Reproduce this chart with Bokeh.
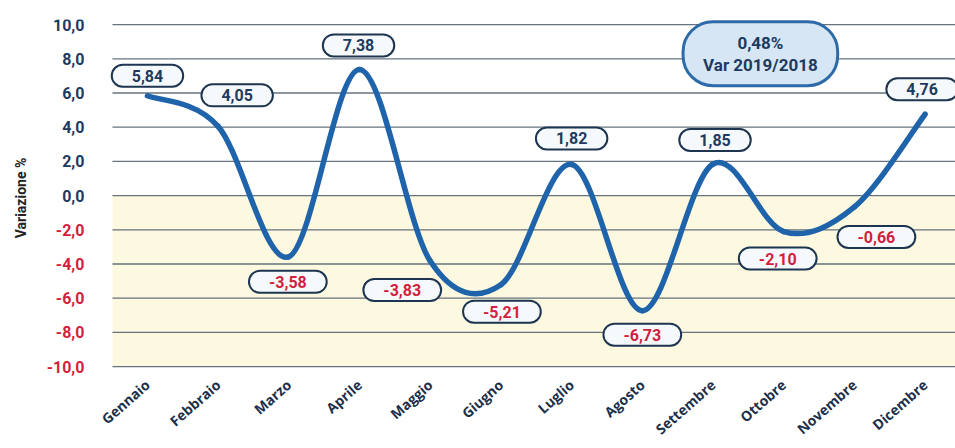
import numpy as np
from bokeh.plotting import figure
from bokeh.models import (Range1d, FixedTicker, Label, ColumnDataSource, BoxAnnotation)
from bokeh.core.properties import value
from bokeh.embed import file_html
from bokeh.resources import INLINE

# ---------------- data ----------------
months = ["Gennaio", "Febbraio", "Marzo", "Aprile", "Maggio", "Giugno",
          "Luglio", "Agosto", "Settembre", "Ottobre", "Novembre", "Dicembre"]
values = [5.84, 4.05, -3.58, 7.38, -3.83, -5.21, 1.82, -6.73, 1.85, -2.10, -0.66, 4.76]
value_labels = ["5,84", "4,05", "-3,58", "7,38", "-3,83", "-5,21",
                "1,82", "-6,73", "1,85", "-2,10", "-0,66", "4,76"]
y_ticks = [-10, -8, -6, -4, -2, 0, 2, 4, 6, 8, 10]
y_tick_labels = ["-10,0", "-8,0", "-6,0", "-4,0", "-2,0", "0,0",
                 "2,0", "4,0", "6,0", "8,0", "10,0"]
summary_value = "0,48%"
summary_caption = "Var 2019/2018"
y_title = "Variazione %"

# ---------------- style ----------------
FONT = "Roboto"
NAVY = "#1e3a5f"
RED = "#d21f3c"
LINE_BLUE = "#1f63aa"
GRID = "#66737f"
PLOT_LEFT = -0.495   # left edge of the drawn chart area (data units)
PLOT_RIGHT = 11.43

p = figure(width=955, height=448, output_backend="svg", toolbar_location=None,
           x_range=Range1d(-1.513, PLOT_RIGHT), y_range=Range1d(-10.58, 10.3),
           min_border_left=40, min_border_right=0, min_border_top=19,
           min_border_bottom=72)
p.outline_line_color = None
p.background_fill_color = "white"
p.border_fill_color = "white"
p.xgrid.grid_line_color = None
p.ygrid.grid_line_color = None

# pale yellow lower half
p.add_layout(BoxAnnotation(left=PLOT_LEFT, top=0, bottom=-10, fill_color="#fcf9e0",
                           fill_alpha=1.0, line_color=None, level="image"))

# horizontal grid lines
grid_src = ColumnDataSource(dict(x0=[PLOT_LEFT] * len(y_ticks),
                                 x1=[PLOT_RIGHT] * len(y_ticks),
                                 y=y_ticks))
p.segment(x0="x0", y0="y", x1="x1", y1="y", source=grid_src,
          line_color=GRID, line_width=1.3, level="underlay")

# y tick labels (navy for >= 0, red for negatives)
tick_src = ColumnDataSource(dict(x=[PLOT_LEFT] * len(y_ticks), y=y_ticks,
                                 text=y_tick_labels,
                                 color=[NAVY if t >= 0 else RED for t in y_ticks]))
p.text(x="x", y="y", text="text", source=tick_src, x_offset=-28,
       text_align="right", text_baseline="middle", text_font=value(FONT),
       text_font_style="bold", text_font_size="16px", text_color="color")

# y axis: only the title
p.yaxis.ticker = FixedTicker(ticks=[])
p.yaxis.axis_line_color = None
p.yaxis.major_tick_line_color = None
p.yaxis.minor_tick_line_color = None
p.yaxis.major_label_text_font_size = "0px"
p.yaxis.major_label_standoff = 0
p.yaxis.axis_label = y_title
p.yaxis.axis_label_text_font = FONT
p.yaxis.axis_label_text_font_style = "bold"
p.yaxis.axis_label_text_font_size = "14px"
p.yaxis.axis_label_text_color = "#222222"
p.yaxis.axis_label_standoff = 12

# x axis
xs = list(range(len(months)))
p.xaxis.ticker = FixedTicker(ticks=xs)
p.xaxis.major_label_overrides = {i: m for i, m in zip(xs, months)}
p.xaxis.major_label_orientation = 0.72
p.xaxis.axis_line_color = None
p.xaxis.major_tick_line_color = None
p.xaxis.minor_tick_line_color = None
p.xaxis.major_tick_in = 0
p.xaxis.major_tick_out = 0
p.xaxis.major_label_standoff = 6
p.xaxis.major_label_text_font = "Open Sans"
p.xaxis.major_label_text_font_style = "bold"
p.xaxis.major_label_text_font_size = "14px"
p.xaxis.major_label_text_color = "#1c2f4a"

# smooth curve: Catmull-Rom segments drawn as bezier glyphs
x = np.array(xs, dtype=float)
y = np.array(values, dtype=float)
xp = np.concatenate([[x[0]], x, [x[-1]]])
yp = np.concatenate([[y[0]], y, [y[-1]]])
tx = xp[2:] - xp[:-2]
ty = yp[2:] - yp[:-2]
seg = ColumnDataSource(dict(
    x0=x[:-1], y0=y[:-1], x1=x[1:], y1=y[1:],
    cx0=x[:-1] + tx[:-1] / 6, cy0=y[:-1] + ty[:-1] / 6,
    cx1=x[1:] - tx[1:] / 6, cy1=y[1:] - ty[1:] / 6))
p.bezier(x0="x0", y0="y0", x1="x1", y1="y1", cx0="cx0", cy0="cy0",
         cx1="cx1", cy1="cy1", source=seg, line_color=LINE_BLUE, line_width=5.5,
         line_cap="round")

# value labels (rounded pills)
offsets = [(0, 20), (19, 31), (-1, -25), (-1, 24), (-28, -29), (1, -27),
           (0, 26), (0, -24), (2, 24), (-6, -27), (22, -30), (-3, 25)]
for xi, v, txt, (dx, dy) in zip(xs, values, value_labels, offsets):
    p.add_layout(Label(x=xi, y=v, text=txt, x_offset=dx, y_offset=dy,
                       text_align="center", text_baseline="middle",
                       text_font=FONT, text_font_style="bold", text_font_size="16px",
                       text_color=NAVY if v >= 0 else RED,
                       background_fill_color="#f6f9fc", background_fill_alpha=1.0,
                       border_line_color="#1d3550", border_line_width=2,
                       padding=(20, 5), border_radius=14))

# summary box
p.add_layout(Label(x=8.67, y=8.3, text=summary_value + "\n" + summary_caption,
                   text_align="center", text_baseline="middle",
                   text_font=FONT, text_font_style="bold", text_font_size="17px",
                   text_color=NAVY, text_line_height=1.1,
                   background_fill_color="#d7e6f4", background_fill_alpha=1.0,
                   border_line_color="#2c6aa8", border_line_width=3,
                   padding=(20, 11), border_radius=30))

open("out.html", "w").write(file_html(p, INLINE))
